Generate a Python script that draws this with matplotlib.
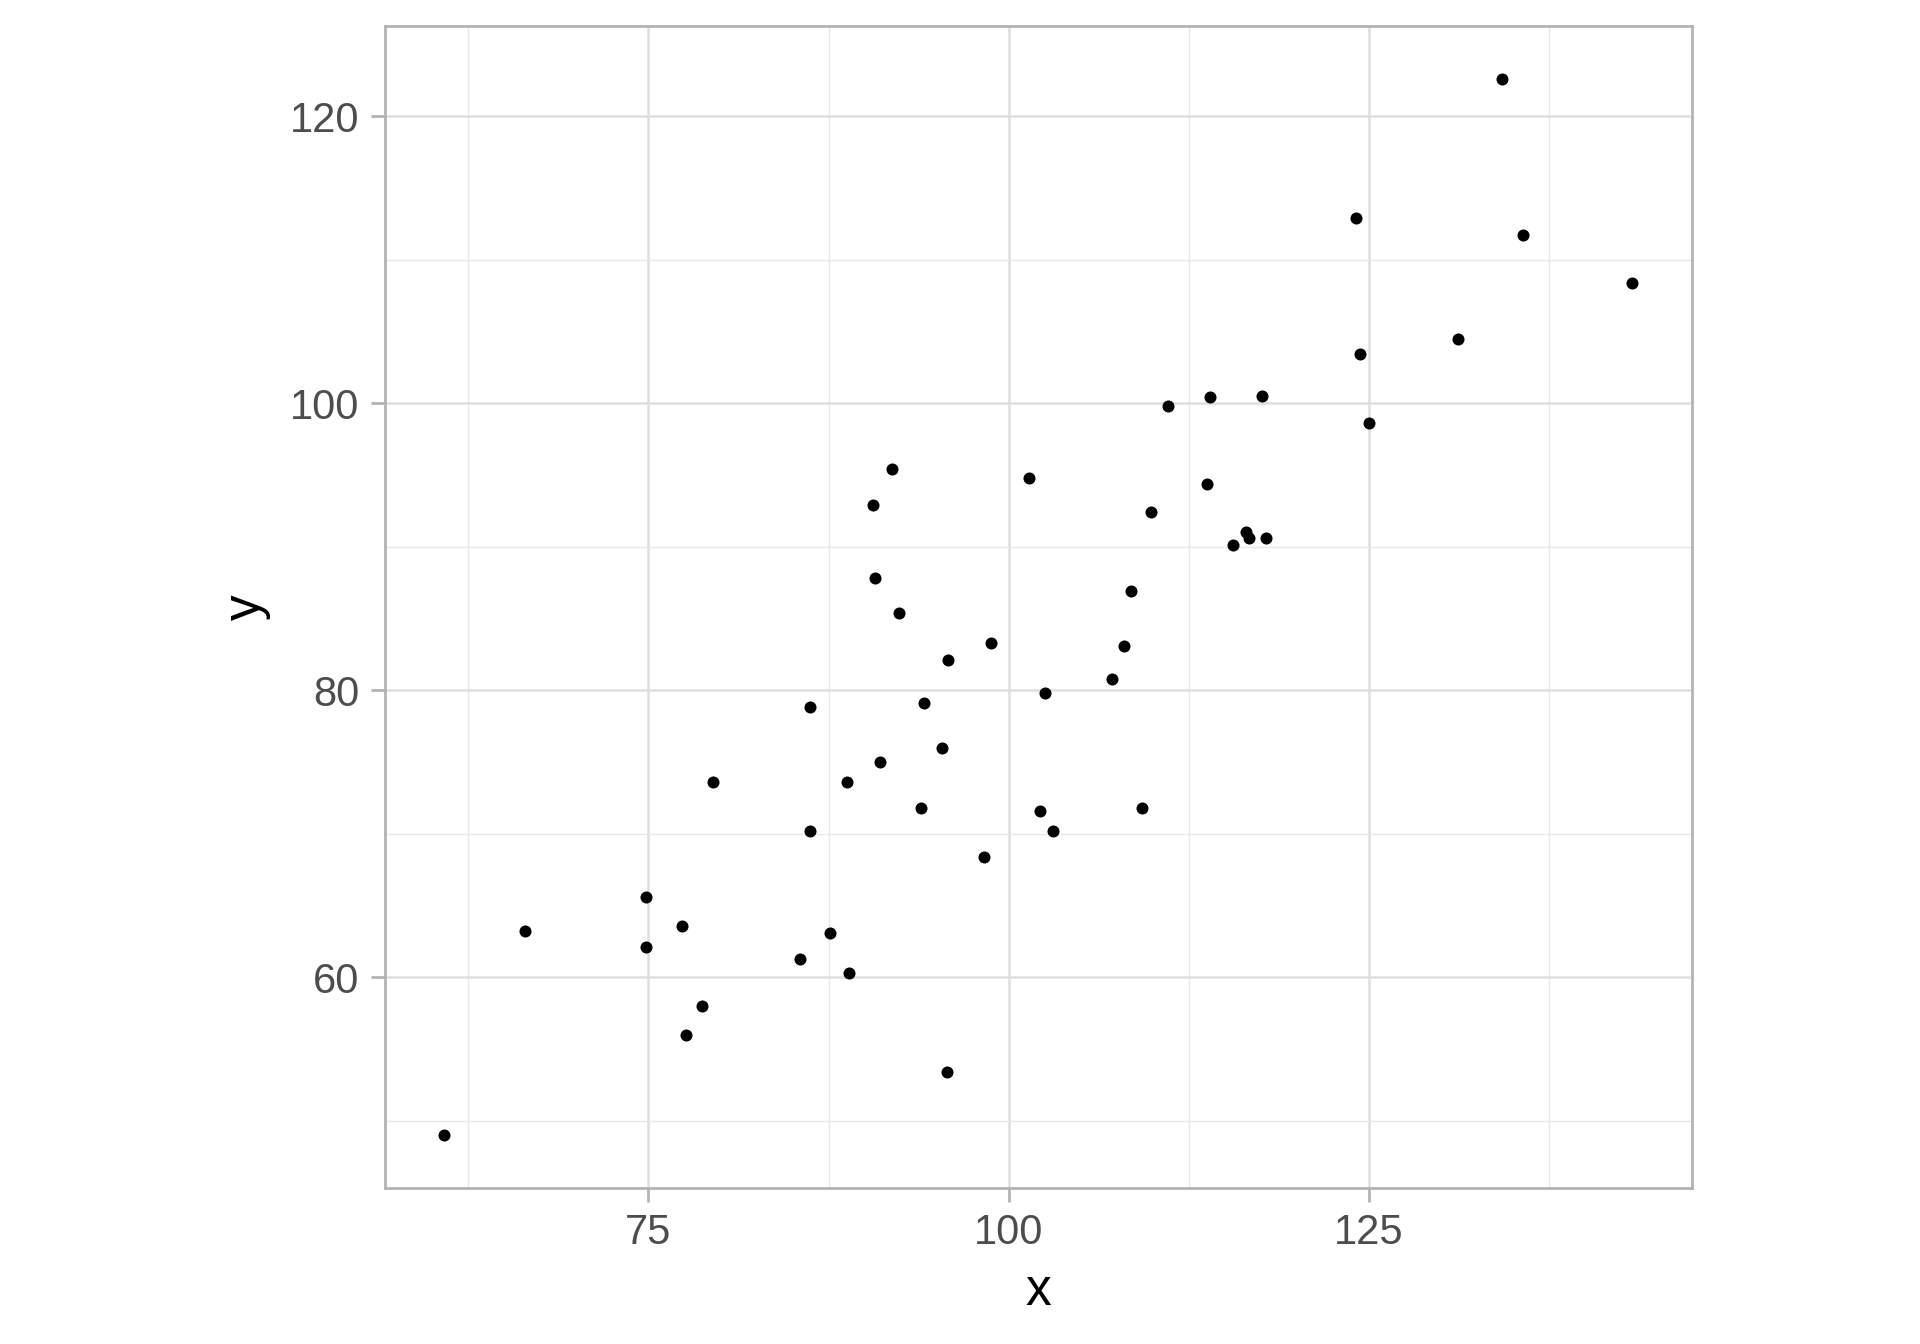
import matplotlib.pyplot as plt
from matplotlib.ticker import MultipleLocator

# data
x = [60.8, 66.4, 74.8, 74.8, 77.3, 77.6, 78.7, 79.5, 85.5, 86.2,
     86.2, 87.6, 88.8, 88.9, 90.6, 90.7, 91.1, 91.9, 92.4, 93.9,
     94.1, 95.4, 95.7, 95.8, 98.3, 98.8, 101.4, 102.2, 102.5, 103.1,
     107.2, 108.0, 108.5, 109.3, 109.9, 111.1, 113.8, 114.0, 115.6, 116.5,
     116.7, 117.9, 117.6, 124.1, 124.4, 125.0, 131.2, 134.3, 135.7, 143.3]
y = [49.0, 63.2, 65.6, 62.1, 63.6, 56.0, 58.0, 73.6, 61.3, 78.8,
     70.2, 63.1, 73.6, 60.3, 92.9, 87.8, 75.0, 95.4, 85.4, 71.8,
     79.1, 76.0, 53.4, 82.1, 68.4, 83.3, 94.8, 71.6, 79.8, 70.2,
     80.8, 83.1, 86.9, 71.8, 92.4, 99.8, 94.4, 100.4, 90.1, 91.0,
     90.6, 90.6, 100.5, 112.9, 103.4, 98.6, 104.5, 122.6, 111.7, 108.4]

plt.rcParams['font.family'] = ['Liberation Sans', 'DejaVu Sans']

fig = plt.figure(figsize=(19.2, 13.44), dpi=100)
ax = fig.add_axes([0.2003, 0.1161, 0.6807, 0.8646])

ax.scatter(x, y, s=75, color='black', linewidths=0, zorder=3)
ax.margins(0.05)

ax.xaxis.set_major_locator(MultipleLocator(25))
ax.xaxis.set_minor_locator(MultipleLocator(12.5))
ax.yaxis.set_major_locator(MultipleLocator(20))
ax.yaxis.set_minor_locator(MultipleLocator(10))

ax.grid(True, which='major', color='#DEDEDE', linewidth=1.8)
ax.grid(True, which='minor', color='#E8E8E8', linewidth=1.0)
ax.set_axisbelow(True)

for sp in ax.spines.values():
    sp.set_color('#B3B3B3')
    sp.set_linewidth(2.0)

ax.tick_params(which='major', length=10, width=2.0, color='#B3B3B3',
               labelsize=30, labelcolor='#4D4D4D', pad=8)
ax.tick_params(which='minor', length=0)

ax.set_xlabel('x', fontsize=37, labelpad=10)
ax.set_ylabel('y', fontsize=37, labelpad=14)

fig.savefig('out.png', dpi=100, facecolor='white')
